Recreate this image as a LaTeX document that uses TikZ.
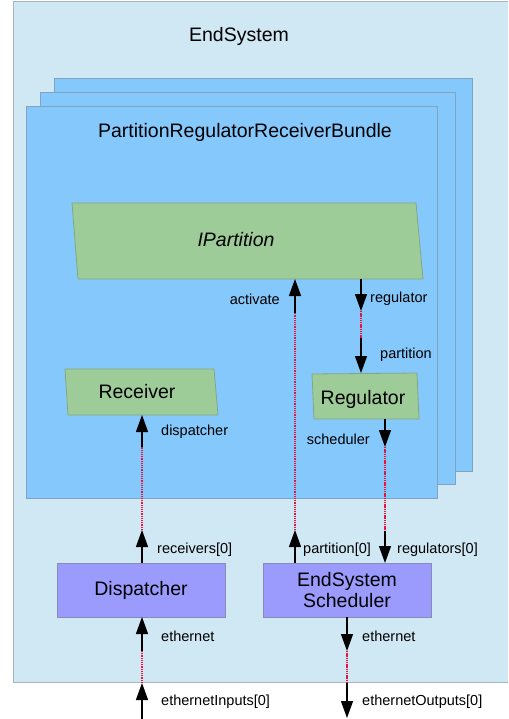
\documentclass[tikz,border=0pt]{standalone}
\usepackage{fontspec}
\setmainfont{Liberation Sans}
\usetikzlibrary{arrows.meta}

\definecolor{esfill}{HTML}{D0E7F4}
\definecolor{esline}{HTML}{A9B6BE}
\definecolor{bundlefill}{HTML}{85C8FC}
\definecolor{bundleline}{HTML}{7FA3C0}
\definecolor{greenfill}{HTML}{9DCC98}
\definecolor{greenline}{HTML}{84A782}
\definecolor{violetfill}{HTML}{9B9BFD}
\definecolor{violetline}{HTML}{8A8AB8}
\definecolor{linkred}{HTML}{E8143C}

\tikzset{
  title/.style={font=\fontsize{19.5}{21}\selectfont,inner sep=0pt,align=center},
  lbl/.style={font=\fontsize{14.5}{16}\selectfont,inner sep=0pt},
  bundle/.style={fill=bundlefill,draw=bundleline,line width=0.8pt},
  iface/.style={fill=greenfill,draw=greenline,line width=0.8pt},
  module/.style={fill=violetfill,draw=violetline,line width=0.8pt,minimum width=168pt,minimum height=54pt,inner sep=0pt},
  port/.style={draw=black,line width=1.3pt,-{Triangle[width=12pt,length=17pt]}},
  link/.style={draw=linkred,line width=1.3pt,dash pattern=on 1.3pt off 0.9pt}
}

\begin{document}
\begin{tikzpicture}[x=1pt,y=-1pt]
  \useasboundingbox (0,0) rectangle (508,719);
  % end system frame
  \fill[esfill] (13,1) rectangle (508,682);
  \draw[esline,line width=0.8pt] (508,1) -- (13,1) -- (13,682) -- (508,682);
  \node[title] (es) at (239,36) {EndSystem};
  % stacked bundles
  \draw[bundle] (54,78) rectangle (472,471);
  \draw[bundle] (40,92) rectangle (455,484);
  \draw[bundle] (26,106) rectangle (437,498);
  \node[title] (bundle) at (245,132) {PartitionRegulatorReceiverBundle};
  % interface and submodules
  \draw[iface] (72,203) -- (416,203) -- (423,279) -- (78,279) -- cycle;
  \node[title,font=\fontsize{19.5}{21}\selectfont\itshape] (ipart) at (236,240) {IPartition};
  \draw[iface] (65,369) -- (214,369) -- (218,415) -- (68,415) -- cycle;
  \node[title] (recv) at (137,392) {Receiver};
  \draw[iface] (312,374) -- (417,373) -- (419,419) -- (314,419) -- cycle;
  \node[title] (reg) at (363,399) {Regulator};
  \node[module] (disp) at (141,590) {};
  \node[title] at (disp) {Dispatcher};
  \node[module] (sched) at (347,590) {};
  \node[title] at (sched) {EndSystem\\Scheduler};

  % gate end points
  \coordinate (actA) at (295,313);   \coordinate (actB) at (295,279);
  \coordinate (partA) at (295,563);  \coordinate (partB) at (295,530);
  \coordinate (regA) at (361,279);   \coordinate (regB) at (361,311);
  \coordinate (rinA) at (361,338);   \coordinate (rinB) at (361,373);
  \coordinate (schA) at (385,419);   \coordinate (schB) at (385,447);
  \coordinate (rgsA) at (385,531);   \coordinate (rgsB) at (385,563);
  \coordinate (dspA) at (142,447);   \coordinate (dspB) at (142,415);
  \coordinate (rcvA) at (142,563);   \coordinate (rcvB) at (142,530);
  \coordinate (ethiA) at (142,651);  \coordinate (ethiB) at (142,617);
  \coordinate (inA) at (142,719);    \coordinate (inB) at (142,683);
  \coordinate (ethoA) at (347,617);  \coordinate (ethoB) at (347,651);
  \coordinate (outA) at (347,683);   \coordinate (outB) at (347,718);

  % connections
  \draw[link] (partB) -- (actA);
  \draw[link] (regB) -- (rinA);
  \draw[link] (schB) -- (rgsA);
  \draw[link] (rcvB) -- (dspA);
  \draw[link] (inB) -- (ethiA);
  \draw[link] (ethoB) -- (outA);

  % gates
  \draw[port] (actA) -- (actB);
  \draw[port] (partA) -- (partB);
  \draw[port] (regA) -- (regB);
  \draw[port] (rinA) -- (rinB);
  \draw[port] (schA) -- (schB);
  \draw[port] (rgsA) -- (rgsB);
  \draw[port] (dspA) -- (dspB);
  \draw[port] (rcvA) -- (rcvB);
  \draw[port] (ethiA) -- (ethiB);
  \draw[port] (inA) -- (inB);
  \draw[port] (ethoA) -- (ethoB);
  \draw[port] (outA) -- (outB);

  % gate labels
  \node[lbl,anchor=east] (lact) at (280,299) {activate};
  \node[lbl,anchor=west] (lreg) at (370,299) {regulator};
  \node[lbl,anchor=west] (lrin) at (380,355) {partition};
  \node[lbl,anchor=west] (ldsp) at (161,432) {dispatcher};
  \node[lbl,anchor=east] (lsch) at (370,439) {scheduler};
  \node[lbl,anchor=west] (lrcv) at (157,550) {receivers[0]};
  \node[lbl,anchor=west] (lpart) at (303,550) {partition[0]};
  \node[lbl,anchor=west] (lrgs) at (397,550) {regulators[0]};
  \node[lbl,anchor=west] (lethi) at (161,636) {ethernet};
  \node[lbl,anchor=west] (letho) at (362,636) {ethernet};
  \node[lbl,anchor=west] (lin) at (161,702) {ethernetInputs[0]};
  \node[lbl,anchor=west] (lout) at (362,702) {ethernetOutputs[0]};
\end{tikzpicture}
\end{document}
